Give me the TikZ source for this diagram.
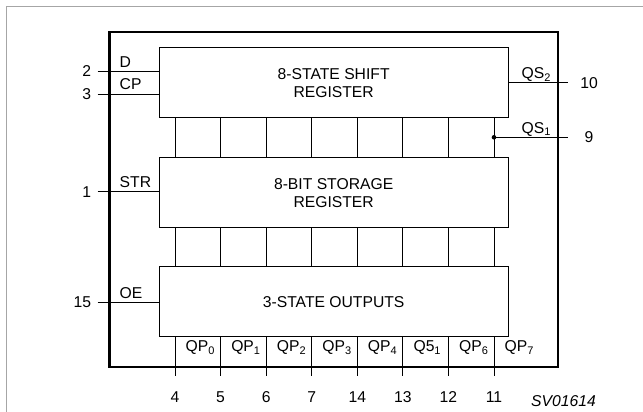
\documentclass[tikz,border=0pt]{standalone}
\usepackage{fontspec}
\setmainfont{Liberation Sans}
\usetikzlibrary{positioning, calc}

\newcommand{\chipfont}{\fontsize{15.7}{17.7}\selectfont}

\begin{document}
\begin{tikzpicture}[x=1pt, y=-1pt, font=\chipfont,
    block/.style={draw, line width=0.9pt, minimum width=349pt, minimum height=70pt, align=center, anchor=north west, inner sep=0pt},
    wire/.style={line width=0.9pt},
    pinnum/.style={inner sep=0pt},
    pinname/.style={inner sep=0pt, anchor=base west}]
    \clip (0,0) rectangle (643,412);

    % Page frame
    \draw[gray!70, line width=1pt] (6.5,6.5) rectangle (660,430);

    % Package outline
    \node[draw, line width=2.4pt, minimum width=448.4pt, minimum height=334.7pt, anchor=north west, inner sep=0pt] (chip) at (108.3,31) {};

    % Register blocks
    \node[block] (shift) at (158.7,47.3) {8-STATE SHIFT\\REGISTER};
    \node[block] (store) at (158.7,157.3) {8-BIT STORAGE\\REGISTER};
    \node[block] (outp) at (158.7,266.3) {3-STATE OUTPUTS};

    % Control inputs
    \foreach \y/\num/\name/\tgt in {71.3/2/D/shift, 94/3/CP/shift, 191.7/1/STR/store, 302.3/15/OE/outp} {
        \coordinate (in\num) at (97.7,\y);
        \draw[wire] (in\num) -- (in\num -| \tgt.west);
        \node[pinnum, anchor=east] at ([xshift=-6.5pt]in\num) {\num};
        \node[pinname] at (119.5,\y-4) {\name};
    }

    % Serial outputs
    \coordinate (qs2) at (567.7,82.7);
    \draw[wire] (qs2 -| shift.east) -- (qs2);
    \node[pinname] at (521.5,78.7) {QS\textsubscript{2}};
    \node[pinnum] at (589,82.7) {10};

    % Parallel bits
    \foreach \i/\num/\lbl in {0/4/QP\textsubscript{0}, 1/5/QP\textsubscript{1}, 2/6/QP\textsubscript{2}, 3/7/QP\textsubscript{3}, 4/14/QP\textsubscript{4}, 5/13/Q5\textsubscript{1}, 6/12/QP\textsubscript{6}, 7/11/QP\textsubscript{7}} {
        \pgfmathsetmacro\x{175+45.57*\i}
        \coordinate (c\i) at (\x,0);
        \draw[wire] (c\i |- shift.south) -- (c\i |- store.north);
        \draw[wire] (c\i |- store.south) -- (c\i |- outp.north);
        \draw[wire] (c\i |- outp.south) -- (\x,375.7);
        \node[pinnum] at (\x,397) {\num};
        \node[pinname] at (\x+10.5,351.5) {\lbl};
    }

    \coordinate (qs1) at (567.7,137.3);
    \fill (c7 |- qs1) circle (2.3pt);
    \draw[wire] (c7 |- qs1) -- (qs1);
    \node[pinname] at (521.5,133.3) {QS\textsubscript{1}};
    \node[pinnum] at (589,137.3) {9};

    \node[pinname, font=\chipfont\itshape] at (531,406.5) {SV01614};
\end{tikzpicture}
\end{document}
